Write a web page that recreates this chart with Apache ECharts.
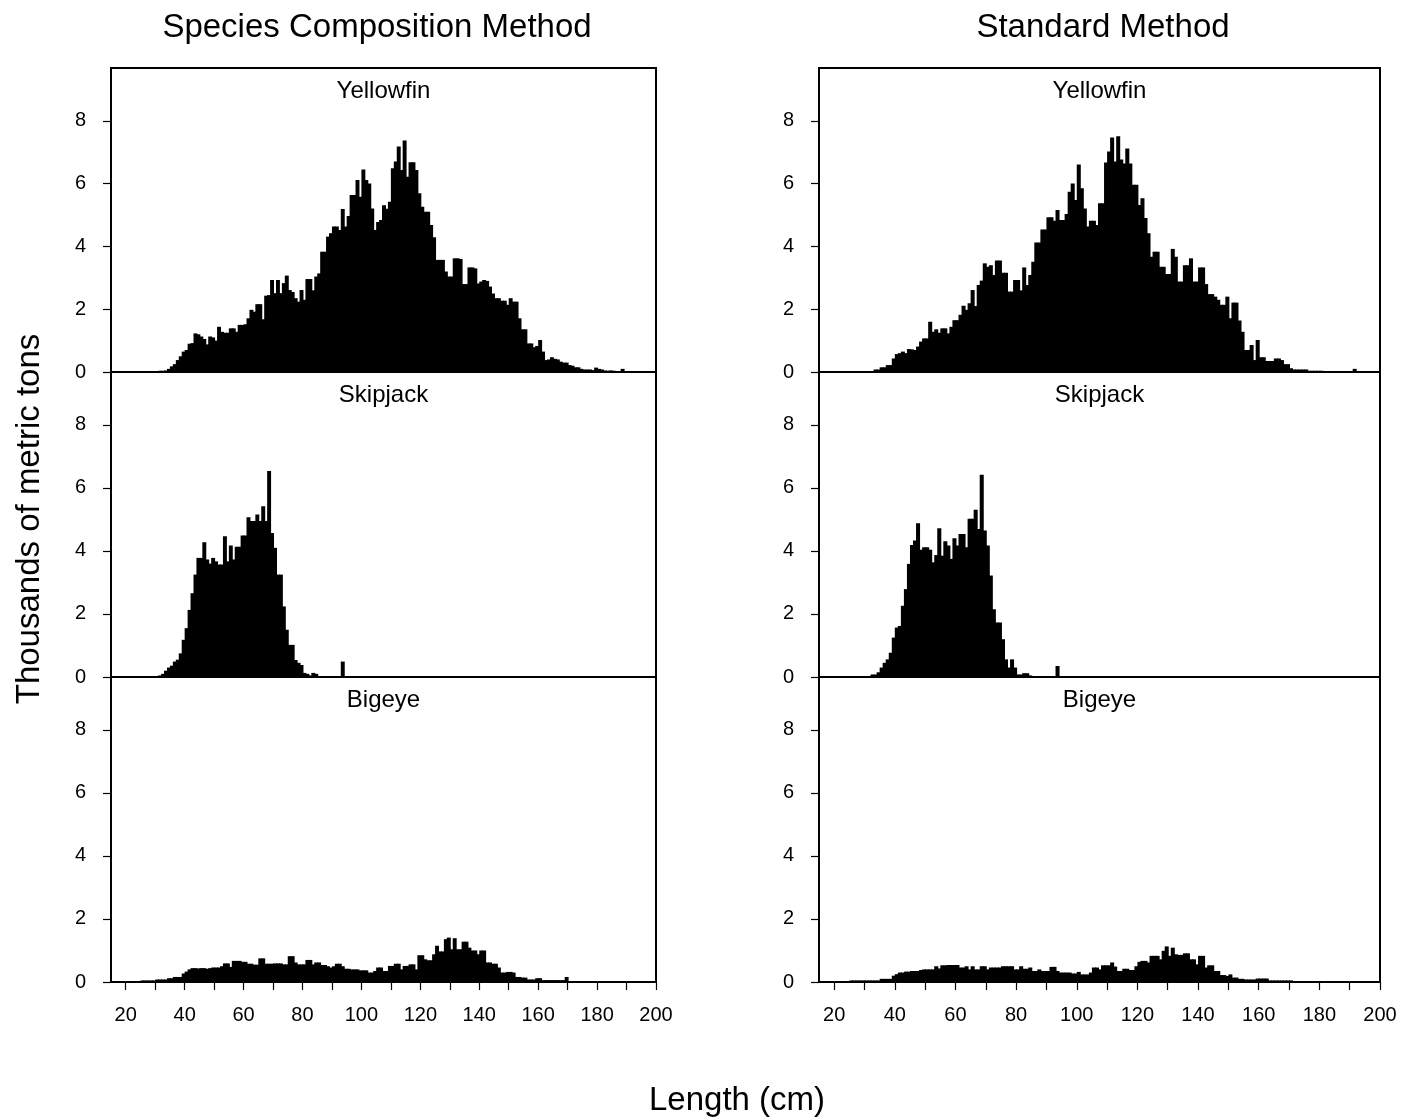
<!DOCTYPE html>
<html><head><meta charset="utf-8">
<script src="https://cdn.jsdelivr.net/npm/echarts@6.0.0/dist/echarts.min.js"></script>
<style>html,body{margin:0;padding:0;background:#fff}#c{width:1403px;height:1119px}</style>
</head><body><div id="c"></div>
<script>
// first length bin (cm); each value is one 1-cm bin
const START_CM = 25;
const BIN = 1;
// Yellowfin, species composition method
const YF_SC = [
0.01,0.01,0.02,0.03,0.03,0.03,0.04,0.04,0.05,0.10,
0.18,0.25,0.38,0.50,0.65,0.70,0.90,0.92,1.23,1.20,
1.13,1.05,0.88,1.13,1.10,1.00,1.44,1.28,1.25,1.25,
1.39,1.39,1.28,1.50,1.50,1.52,1.71,1.98,1.92,2.16,
2.16,1.68,2.43,2.45,2.93,2.51,2.93,2.51,2.83,3.07,
2.61,2.55,2.35,2.24,2.61,2.30,2.96,2.96,2.60,3.04,
3.14,3.83,3.83,4.31,4.42,4.63,4.63,4.52,5.19,4.63,
4.97,5.64,5.64,6.11,5.58,6.45,6.11,6.00,5.21,4.52,
4.78,4.84,5.31,5.20,5.42,6.49,6.70,7.18,6.43,7.37,
6.22,6.68,6.68,6.43,5.69,5.26,5.10,5.10,4.68,4.29,
3.57,3.57,3.57,3.20,3.04,3.04,3.62,3.62,3.60,2.80,
2.80,3.33,3.33,3.30,2.82,2.88,2.93,2.90,2.72,2.50,
2.35,2.35,2.27,2.27,2.14,2.35,2.24,2.24,1.71,1.36,
1.36,0.91,0.91,0.79,0.83,1.02,0.65,0.38,0.40,0.47,
0.42,0.40,0.33,0.30,0.30,0.22,0.20,0.15,0.15,0.10,
0.08,0.08,0.08,0.06,0.14,0.10,0.08,0.05,0.04,0.05,
0.04,0.03,0.03,0.10,0.03,0.02,0.02,0.02,0.01,0.01,
0.01,0,0,0,0];
// Yellowfin, standard method
const YF_ST = [
0.02,0.02,0.02,0.03,0.03,0.03,0.03,0.03,0.08,0.08,
0.15,0.15,0.22,0.22,0.43,0.57,0.60,0.65,0.60,0.73,
0.72,0.70,0.81,0.97,1.07,1.07,1.60,1.28,1.36,1.25,
1.39,1.39,1.23,1.44,1.65,1.65,1.82,2.11,1.98,2.19,
2.61,2.10,2.77,2.91,3.46,3.35,3.40,3.09,3.55,3.55,
3.16,3.16,2.56,2.56,2.93,2.93,2.60,3.33,2.77,3.09,
3.51,4.12,4.12,4.54,4.54,4.93,4.93,4.82,5.16,4.84,
4.84,5.03,5.74,6.00,5.48,6.61,5.85,5.21,4.63,4.82,
4.82,4.68,5.37,5.37,6.67,7.02,7.47,6.70,7.51,6.77,
6.64,7.12,6.64,5.96,5.96,5.32,5.53,4.90,4.42,3.67,
3.83,3.83,3.35,3.35,3.12,3.12,3.92,3.67,2.88,2.88,
3.40,3.40,3.62,2.88,2.88,3.33,3.33,2.80,2.48,2.48,
2.40,2.30,2.14,2.14,2.40,1.71,2.21,2.21,1.64,1.28,
0.70,0.70,0.86,0.38,1.02,0.47,0.47,0.35,0.35,0.35,
0.43,0.43,0.38,0.25,0.25,0.12,0.08,0.08,0.08,0.08,
0.08,0.04,0.04,0.04,0.04,0.04,0.03,0.03,0.03,0.03,
0.03,0.03,0.02,0.02,0.02,0.02,0.10,0.02,0.01,0.01,
0.01,0,0,0,0];
// Skipjack, species composition method
const SJ_SC = [
0,0,0,0,0,0.03,0.05,0.10,0.20,0.30,
0.36,0.49,0.55,0.75,1.18,1.55,2.13,2.66,3.25,3.78,
3.78,4.28,3.73,3.60,3.78,3.67,3.57,3.57,4.47,3.67,
4.17,3.73,4.13,4.13,4.49,4.49,5.07,4.95,4.95,5.16,
4.95,5.42,4.95,6.54,4.57,4.10,3.25,3.25,2.24,1.50,
1.02,1.02,0.54,0.45,0.38,0.13,0.10,0.05,0.13,0.10,
0.03,0.03,0.03,0.03,0.03,0.03,0.03,0.03,0.49,0.02];
// Skipjack, standard method
const SJ_ST = [
0.03,0.03,0.03,0.03,0.03,0.03,0.03,0.08,0.08,0.15,
0.30,0.45,0.56,0.77,1.25,1.57,1.62,2.26,2.79,3.59,
4.19,4.33,4.88,4.04,4.12,4.12,4.04,3.64,3.87,4.72,
3.85,4.31,4.17,3.75,4.40,4.17,4.54,4.54,4.12,5.02,
5.02,5.31,4.70,6.42,4.65,4.17,3.22,2.15,1.73,1.73,
1.20,0.56,0.30,0.56,0.30,0.08,0.08,0.12,0.12,0.05,
0.03,0.03,0.03,0.03,0.03,0.03,0.03,0.03,0.35,0.02];
// Bigeye, species composition method
const BE_SC = [
0.05,0.05,0.05,0.05,0.05,0.08,0.08,0.08,0.08,0.12,
0.12,0.16,0.16,0.16,0.27,0.33,0.40,0.44,0.44,0.43,
0.44,0.44,0.42,0.44,0.46,0.46,0.46,0.50,0.59,0.59,
0.48,0.67,0.67,0.67,0.64,0.64,0.58,0.58,0.55,0.55,
0.75,0.75,0.58,0.58,0.58,0.59,0.59,0.59,0.56,0.56,
0.82,0.82,0.62,0.56,0.56,0.56,0.70,0.70,0.56,0.62,
0.62,0.54,0.54,0.50,0.46,0.50,0.58,0.58,0.50,0.42,
0.42,0.40,0.40,0.40,0.37,0.37,0.37,0.30,0.30,0.35,
0.46,0.46,0.35,0.35,0.51,0.51,0.58,0.58,0.40,0.51,
0.51,0.56,0.56,0.40,0.85,0.85,0.72,0.69,0.69,0.88,
1.15,0.97,0.97,1.36,1.41,1.04,1.39,1.04,1.04,1.28,
1.28,1.09,1.00,1.00,0.88,1.00,1.00,0.62,0.62,0.58,
0.58,0.46,0.30,0.30,0.32,0.32,0.30,0.16,0.16,0.14,
0.14,0.08,0.08,0.08,0.12,0.12,0.06,0.06,0.06,0.06,
0.06,0.06,0.06,0.06,0.16,0.03,0.03,0.03,0.03,0.03,
0.03,0.03,0.03,0.03,0.03,0.02,0.02,0.02,0.02,0.02];
// Bigeye, standard method
const BE_ST = [
0.05,0.05,0.05,0.05,0.05,0.05,0.05,0.05,0.05,0.05,
0.10,0.10,0.10,0.10,0.20,0.25,0.30,0.30,0.33,0.33,
0.35,0.35,0.35,0.38,0.40,0.40,0.40,0.40,0.50,0.43,
0.53,0.53,0.54,0.54,0.54,0.54,0.46,0.46,0.50,0.40,
0.50,0.40,0.40,0.50,0.50,0.40,0.46,0.46,0.46,0.46,
0.50,0.50,0.50,0.50,0.40,0.40,0.50,0.42,0.42,0.46,
0.35,0.35,0.40,0.35,0.35,0.35,0.48,0.48,0.35,0.30,
0.30,0.30,0.30,0.27,0.27,0.32,0.24,0.24,0.24,0.30,
0.46,0.46,0.40,0.53,0.53,0.53,0.62,0.49,0.35,0.35,
0.42,0.42,0.38,0.38,0.50,0.64,0.67,0.67,0.62,0.83,
0.83,0.83,0.72,0.99,1.13,0.83,1.09,0.88,0.86,0.86,
0.91,0.91,0.72,0.72,0.56,0.83,0.83,0.46,0.53,0.53,
0.35,0.35,0.22,0.22,0.19,0.24,0.14,0.14,0.10,0.10,
0.08,0.08,0.08,0.08,0.11,0.11,0.11,0.11,0.05,0.05,
0.05,0.05,0.05,0.05,0.05,0.05,0.02,0.02,0.02,0.02];

const SPECIES = ['Yellowfin', 'Skipjack', 'Bigeye'];
const METHODS = ['Species Composition Method', 'Standard Method'];
const X_TICKS = [20,30,40,50,60,70,80,90,100,110,120,130,140,150,160,170,180,190,200];
const X_LABELS = [20,40,60,80,100,120,140,160,180,200];
const Y_TICKS = [0,2,4,6,8];
const X_MIN = 15, X_MAX = 200, Y_MAX = 9.68;
const PANELS = [[YF_SC, YF_ST], [SJ_SC, SJ_ST], [BE_SC, BE_ST]];

const FONT = '"Liberation Sans", Arial, Helvetica, sans-serif';
const COLS = [{left: 111, width: 545}, {left: 819, width: 561}];
const ROWS = [{top: 68, height: 304}, {top: 372, height: 305}, {top: 677, height: 305}];
const METHOD_CENTERS = [377, 1103];

function toData(arr) { return arr.map((v, i) => [START_CM + i * BIN, v]); }
function renderBar(params, api) {
  const x = api.value(0), v = api.value(1);
  const a = api.coord([x, 0]);
  const b = api.coord([x + BIN, v]);
  return { type: 'rect', shape: { x: a[0], y: b[1], width: b[0] - a[0] + 1, height: a[1] - b[1] },
           style: { fill: '#000' } };
}

const grid = [], xAxis = [], yAxis = [], series = [], title = [];
let idx = 0;
for (let c = 0; c < 2; c++) {
  for (let r = 0; r < 3; r++) {
    const isBottom = r === 2;
    grid.push({ left: COLS[c].left, width: COLS[c].width, top: ROWS[r].top, height: ROWS[r].height,
      show: true, borderColor: '#000', borderWidth: 2, backgroundColor: 'transparent' });
    xAxis.push({ type: 'value', gridIndex: idx, min: X_MIN, max: X_MAX,
      axisLine: { show: false },
      axisTick: { show: isBottom, customValues: X_TICKS, length: 8, inside: false, lineStyle: { color: '#000', width: 1.2 } },
      axisLabel: { show: isBottom, customValues: X_LABELS, fontSize: 20, color: '#000', margin: 23, fontFamily: FONT },
      splitLine: { show: false } });
    yAxis.push({ type: 'value', gridIndex: idx, min: 0, max: Y_MAX,
      axisLine: { show: false },
      axisTick: { show: true, customValues: Y_TICKS, length: 8, inside: false, lineStyle: { color: '#000', width: 1.2 } },
      axisLabel: { customValues: Y_TICKS, fontSize: 20, color: '#000', margin: 25, fontFamily: FONT },
      splitLine: { show: false } });
    series.push({ type: 'custom', coordinateSystem: 'cartesian2d', xAxisIndex: idx, yAxisIndex: idx,
      renderItem: renderBar, data: toData(PANELS[r][c]), encode: { x: 0, y: 1 }, clip: true, silent: true });
    title.push({ text: SPECIES[r], left: COLS[c].left + COLS[c].width / 2, top: ROWS[r].top + 11,
      textAlign: 'center', padding: 0,
      textStyle: { fontSize: 24, fontWeight: 'normal', color: '#000', fontFamily: FONT } });
    idx++;
  }
  title.push({ text: METHODS[c], left: METHOD_CENTERS[c], top: 11, textAlign: 'center', padding: 0,
    textStyle: { fontSize: 33, fontWeight: 'normal', color: '#000', fontFamily: FONT } });
}
title.push({ text: 'Length (cm)', left: 737, top: 1084, textAlign: 'center', padding: 0,
  textStyle: { fontSize: 33, fontWeight: 'normal', color: '#000', fontFamily: FONT } });

const chart = echarts.init(document.getElementById('c'), null, { renderer: 'canvas' });
chart.setOption({
  animation: false,
  backgroundColor: '#fff',
  title, grid, xAxis, yAxis, series,
  graphic: [{ type: 'text', x: 30, y: 519, rotation: Math.PI / 2,
    style: { text: 'Thousands of metric tons', font: '33px ' + FONT, fill: '#000', align: 'center', verticalAlign: 'middle' } }]
});
</script></body></html>
